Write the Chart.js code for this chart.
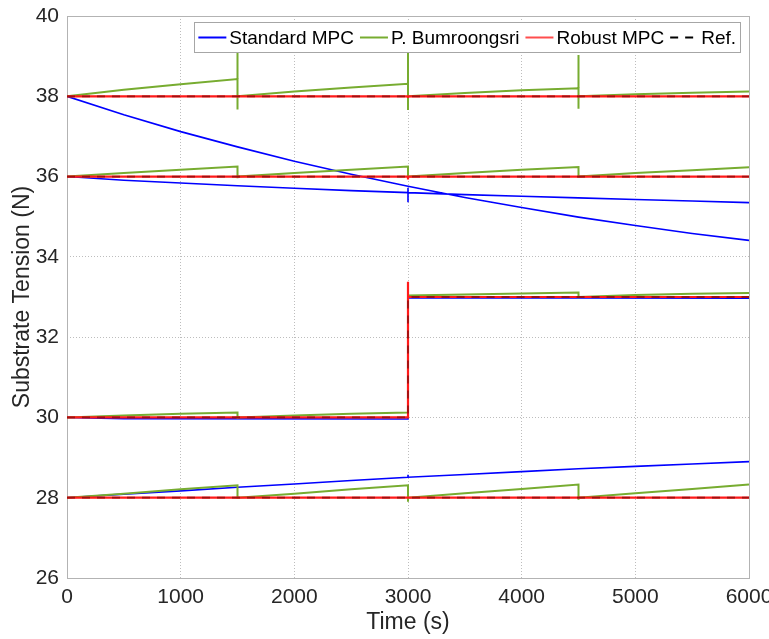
<!DOCTYPE html>
<html>
<head>
<meta charset="utf-8">
<script src="https://cdn.jsdelivr.net/npm/chart.js@4"></script>
<style>
html,body{margin:0;padding:0;background:#ffffff;}
#wrap{width:769px;height:639px;}
</style>
</head>
<body>
<div id="wrap"><canvas id="c" width="769" height="639"></canvas></div>
<script>
// ---------- data ----------
const seriesNames = ['Standard MPC', 'P. Bumroongsri', 'Robust MPC', 'Ref.'];
const xTitle = 'Time (s)';
const yTitle = 'Substrate Tension (N)';

// Standard MPC, one run per set-point
const stdMPC_38 = [[0,38],[500,37.54],[1000,37.12],[1500,36.74],[2000,36.38],[2500,36.06],[3000,35.76],[3500,35.48],[4000,35.23],[4500,34.99],[5000,34.78],[5500,34.58],[6000,34.41]];
const stdMPC_36 = [[0,36],[500,35.91],[1000,35.84],[1500,35.77],[2000,35.71],[2500,35.65],[3000,35.6],[3000,35.72],[3000,35.36],[3000,35.6],[3500,35.55],[4000,35.51],[4500,35.47],[5000,35.43],[5500,35.39],[6000,35.35]];
const stdMPC_30 = [[0,30],[500,29.97],[3000,29.96],[3000,32.98],[6000,32.97]];
const stdMPC_28 = [[0,28],[500,28.09],[1000,28.17],[1500,28.26],[2000,28.34],[2500,28.43],[3000,28.51],[3000,28.57],[3000,28.51],[3500,28.58],[4000,28.65],[4500,28.72],[5000,28.78],[5500,28.84],[6000,28.9]];

// P. Bumroongsri
const bum_38 = [[0,38],[500,38.16],[1000,38.3],[1500,38.43],[1500,39.5],[1500,37.67],[1500,38],[2000,38.12],[2500,38.22],[3000,38.31],[3000,39.5],[3000,37.66],[3000,38],[3500,38.08],[4000,38.15],[4500,38.2],[4500,39.03],[4500,37.69],[4500,38],[5000,38.05],[5500,38.09],[6000,38.12]];
const bum_36 = [[0,36],[500,36.09],[1000,36.17],[1500,36.25],[1500,35.96],[1500,36],[2000,36.09],[2500,36.17],[3000,36.25],[3000,36],[3500,36.09],[4000,36.17],[4500,36.24],[4500,36],[5000,36.09],[5500,36.16],[6000,36.23]];
const bum_30 = [[0,30],[500,30.05],[1000,30.09],[1500,30.12],[1500,29.97],[1500,30],[2000,30.05],[2500,30.09],[3000,30.12],[3000,33.04],[3500,33.06],[4000,33.09],[4500,33.11],[4500,32.97],[4500,33],[5000,33.05],[5500,33.08],[6000,33.1]];
const bum_28 = [[0,28],[500,28.1],[1000,28.21],[1500,28.31],[1500,28],[2000,28.1],[2500,28.21],[3000,28.31],[3000,27.9],[3000,28],[3500,28.11],[4000,28.22],[4500,28.33],[4500,27.95],[4500,28],[5000,28.11],[5500,28.22],[6000,28.33]];

// Robust MPC
const rob_38 = [[0,38],[3000,38],[3000,37.96],[3000,38],[6000,38]];
const rob_36 = [[0,36],[3000,36],[3000,35.93],[3000,36],[6000,36]];
const rob_30 = [[0,30],[3000,30],[3000,33.38],[3000,33],[6000,33]];
const rob_28 = [[0,28],[6000,28]];

// Reference
const ref_38 = [[0,38],[6000,38]];
const ref_36 = [[0,36],[6000,36]];
const ref_30 = [[0,30],[3000,30],[3000,33],[6000,33]];
const ref_28 = [[0,28],[6000,28]];

// ---------- build datasets ----------
function joinRuns(...runs) {
  const out = [];
  runs.forEach((run, i) => {
    if (i > 0) out.push({x: run[0][0], y: null});
    run.forEach(p => out.push({x: p[0], y: p[1]}));
  });
  return out;
}

const FONT = '"Liberation Sans", Helvetica, Arial, sans-serif';

const styles = [
  {color: '#0000ff', width: 1.6, dash: [], order: 3},
  {color: '#77ac30', width: 2, dash: [], order: 2},
  {color: '#ff1a1a', width: 2.2, dash: [], order: 1},
  {color: '#a01010', width: 1.8, dash: [8, 7], order: 0}
];
const legendColors = ['#0000ff', '#77ac30', '#ff4d4d', '#000000'];

const runsPerSeries = [
  [stdMPC_38, stdMPC_36, stdMPC_30, stdMPC_28],
  [bum_38, bum_36, bum_30, bum_28],
  [rob_38, rob_36, rob_30, rob_28],
  [ref_38, ref_36, ref_30, ref_28]
];

const datasets = seriesNames.map((name, i) => ({
  label: name,
  data: joinRuns(...runsPerSeries[i]),
  borderColor: styles[i].color,
  borderWidth: styles[i].width,
  borderDash: styles[i].dash,
  pointRadius: 0,
  fill: false,
  tension: 0,
  spanGaps: false,
  order: styles[i].order
}));

// ---------- plugins ----------
const framePlugin = {
  id: 'frame',
  beforeDatasetsDraw(chart) {
    const {ctx, chartArea: a} = chart;
    ctx.save();
    ctx.strokeStyle = '#b3b3b3';
    ctx.lineWidth = 1;
    ctx.strokeRect(Math.round(a.left) + 0.5, Math.round(a.top) + 0.5,
                   Math.round(a.right - a.left), Math.round(a.bottom - a.top));
    ctx.restore();
  }
};

const legendPlugin = {
  id: 'boxLegend',
  afterDraw(chart) {
    const ctx = chart.ctx;
    ctx.save();
    ctx.font = '19px ' + FONT;
    const pad = 4, sw = 28, g1 = 3, g2 = 6;
    const widths = seriesNames.map(n => ctx.measureText(n).width);
    let total = pad;
    widths.forEach((w, i) => { total += sw + g1 + w + (i < widths.length - 1 ? g2 : pad); });
    const right = 740, top = 22, h = 30;
    const left = right - total;
    ctx.fillStyle = '#ffffff';
    ctx.fillRect(left, top, total, h);
    ctx.strokeStyle = '#a6a6a6';
    ctx.lineWidth = 1;
    ctx.strokeRect(Math.round(left) + 0.5, top + 0.5, Math.round(total), h);
    const cy = top + h / 2 + 0.5;
    let x = left + pad;
    seriesNames.forEach((n, i) => {
      ctx.beginPath();
      ctx.strokeStyle = legendColors[i];
      ctx.lineWidth = 2;
      ctx.setLineDash(i === 3 ? [8, 7] : []);
      ctx.moveTo(x, cy);
      ctx.lineTo(x + sw, cy);
      ctx.stroke();
      ctx.setLineDash([]);
      x += sw + g1;
      ctx.fillStyle = '#000000';
      ctx.textBaseline = 'middle';
      ctx.textAlign = 'left';
      ctx.fillText(n, x, cy + 1);
      x += widths[i] + g2;
    });
    ctx.restore();
  }
};

function fixPadding(scale) {
  scale.paddingTop = 0; scale.paddingBottom = 0;
  scale.paddingLeft = 0; scale.paddingRight = 0;
}

new Chart(document.getElementById('c').getContext('2d'), {
  type: 'line',
  data: {datasets},
  plugins: [framePlugin, legendPlugin],
  options: {
    responsive: false,
    animation: false,
    devicePixelRatio: 1,
    layout: {padding: {left: 0, top: 16, right: 20, bottom: 0}},
    plugins: {legend: {display: false}, tooltip: {enabled: false}},
    scales: {
      x: {
        type: 'linear',
        min: 0, max: 6000,
        ticks: {stepSize: 1000, color: '#262626', font: {family: FONT, size: 21}, padding: 7, maxRotation: 0,
                callback: v => String(v)},
        grid: {color: '#bdbdbd', lineWidth: 1, drawTicks: false},
        border: {display: false, dash: [1, 2]},
        title: {display: true, text: xTitle, color: '#262626', font: {family: FONT, size: 23}, padding: {top: 0, bottom: 3}},
        afterFit(scale) { scale.height = 61; fixPadding(scale); }
      },
      y: {
        type: 'linear',
        min: 26, max: 40,
        ticks: {stepSize: 2, color: '#262626', font: {family: FONT, size: 21}, padding: 8,
                callback: v => String(v)},
        grid: {color: '#bdbdbd', lineWidth: 1, drawTicks: false},
        border: {display: false, dash: [1, 2]},
        title: {display: true, text: yTitle, color: '#262626', font: {family: FONT, size: 23}, padding: {top: 9, bottom: 0}},
        afterFit(scale) { scale.width = 67; fixPadding(scale); }
      }
    }
  }
});
</script>
</body>
</html>
